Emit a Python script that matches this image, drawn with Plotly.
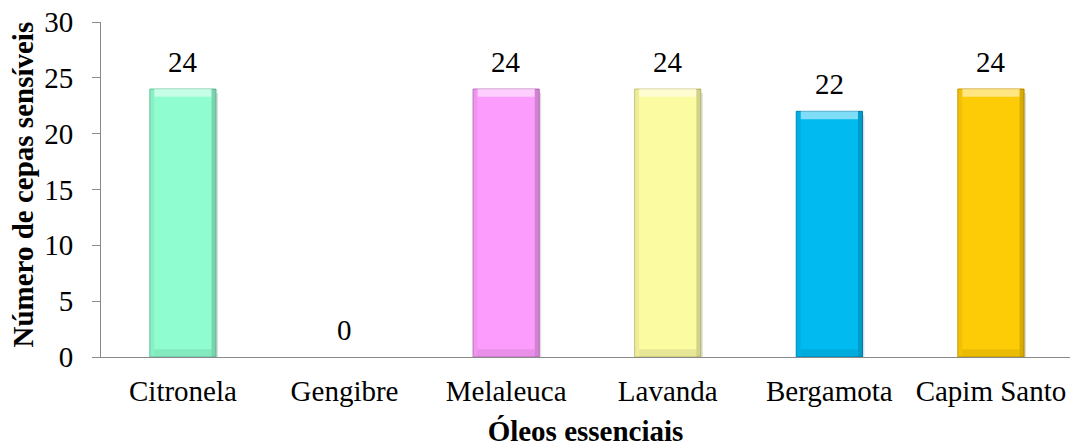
import plotly.graph_objects as go

# Óleos essenciais e número de cepas sensíveis
oleos = ["Citronela", "Gengibre", "Melaleuca", "Lavanda", "Bergamota", "Capim Santo"]
cepas = [24, 0, 24, 24, 22, 24]
cores = ["#8FFDD0", "#C0C0C0", "#FC9CFC", "#FBFBA2", "#00BAF0", "#FECC06"]
bordas = ["#6FC8A4", "#888888", "#C57AC5", "#C8C880", "#0088B8", "#C89A00"]

FONT = "Liberation Serif"
FS = 29
LARG = 0.41        # largura das barras (unidades de categoria)
DESL = -LARG / 2   # deslocamento para centralizar
CHANFRO = 0.7      # altura do chanfro superior/inferior (unidades do eixo y)
LATERAL = 0.028    # largura das faixas laterais de relevo

tem_barra = [v > 0 for v in cepas]
largura_borda = [1 if t else 0 for t in tem_barra]
alt_chanfro = [CHANFRO if t else 0 for t in tem_barra]
base_topo = [v - c for v, c in zip(cepas, alt_chanfro)]

fig = go.Figure()

def camada(**kw):
    kw.setdefault("hoverinfo", "skip")
    fig.add_trace(go.Bar(x=oleos, showlegend=False, **kw))

# sombra projetada
camada(y=cepas, width=LARG, offset=DESL + 0.012, base=[-0.35 if t else 0 for t in tem_barra],
       marker=dict(color="rgba(0,0,0,0.13)", line=dict(width=0)))

# corpo das barras
fig.add_trace(go.Bar(
    x=oleos, y=cepas, width=LARG, offset=DESL,
    marker=dict(color=cores, line=dict(color=bordas, width=largura_borda)),
    showlegend=False,
))

# relevo: faixa clara no topo, escura na base, laterais
camada(y=alt_chanfro, base=base_topo, width=LARG - 2 * LATERAL, offset=DESL + LATERAL,
       marker=dict(color="rgba(255,255,255,0.5)", line=dict(width=0)))
camada(y=alt_chanfro, base=0, width=LARG - 2 * LATERAL, offset=DESL + LATERAL,
       marker=dict(color="rgba(0,0,0,0.08)", line=dict(width=0)))
camada(y=cepas, width=LATERAL, offset=DESL + LARG - LATERAL,
       marker=dict(color="rgba(0,0,0,0.16)", line=dict(width=0)))
camada(y=cepas, width=LATERAL, offset=DESL,
       marker=dict(color="rgba(0,0,0,0.05)", line=dict(width=0)))

fig.update_layout(barmode="overlay")

# rótulos de valor
for nome, valor in zip(oleos, cepas):
    fig.add_annotation(
        x=nome, y=valor, text=str(valor), showarrow=False,
        yanchor="bottom", yshift=9,
        font=dict(family=FONT, size=FS, color="#000000"),
    )

# título do eixo y
fig.add_annotation(
    xref="paper", yref="paper", x=0, y=0.5, xshift=-79, yshift=5,
    text="<b>Número de cepas sensíveis</b>", textangle=-90, showarrow=False,
    xanchor="center", yanchor="middle",
    font=dict(family=FONT, size=FS, color="#000000"),
)

fig.update_layout(
    width=1070, height=447,
    margin=dict(l=101, r=0, t=22, b=90),
    paper_bgcolor="white", plot_bgcolor="white",
    font=dict(family=FONT, size=FS, color="#000000"),
    xaxis=dict(
        range=[-0.507, 5.489],
        showline=True, linecolor="#898989", linewidth=1,
        ticks="", showgrid=False,
        tickfont=dict(family=FONT, size=FS),
        ticklabelstandoff=8,
        title=dict(text="<b>Óleos essenciais</b>", font=dict(family=FONT, size=FS), standoff=14),
    ),
    yaxis=dict(
        range=[0, 30], dtick=5,
        showline=True, linecolor="#898989", linewidth=1,
        ticks="outside", ticklen=8, tickcolor="#898989",
        showgrid=False, zeroline=False,
        tickfont=dict(family=FONT, size=FS),
        ticklabelstandoff=13,
        automargin=False,
    ),
)

fig.write_html("out.html")
